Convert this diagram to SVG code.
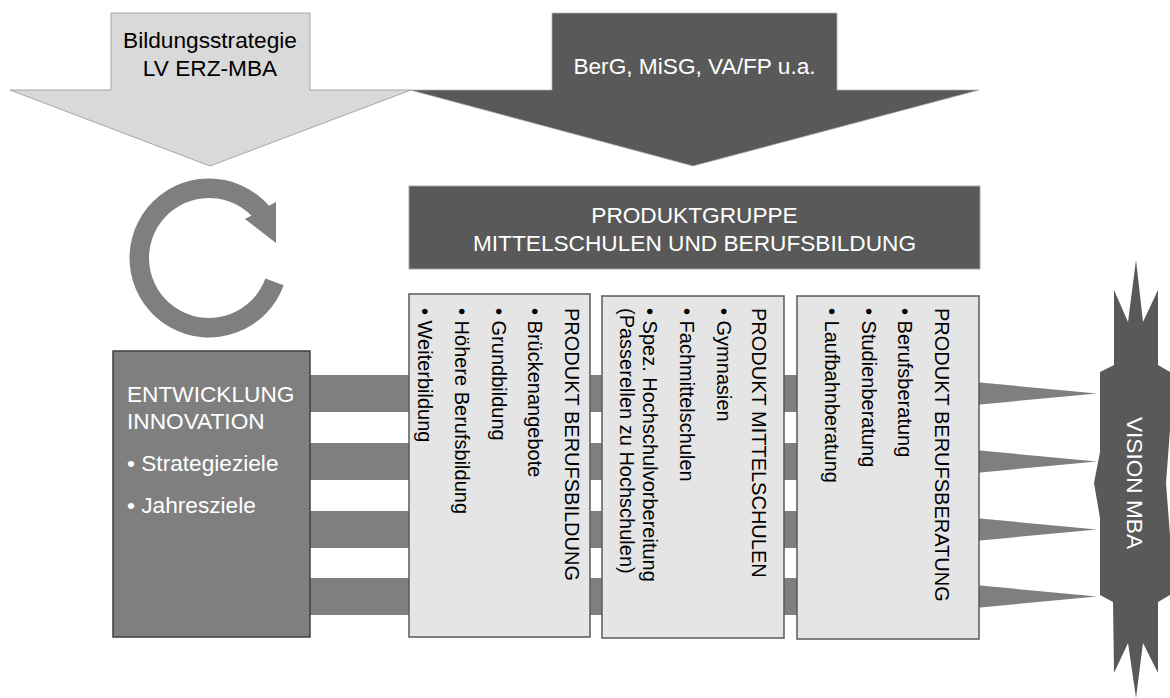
<svg xmlns="http://www.w3.org/2000/svg" width="1170" height="698" viewBox="0 0 1170 698">
  <style>
    text { font-family: "Liberation Sans", Arial, sans-serif; }
    .big { font-size: 22.67px; }
    .small { font-size: 20px; }
    .white { fill: #ffffff; }
    .black { fill: #000000; }
    .product { fill: #e5e5e5; stroke: #595959; stroke-width: 1.5; }
    .bar { fill: #7f7f7f; }
  </style>

  <rect x="0" y="0" width="1170" height="698" fill="#ffffff"/>

  <!-- Incoming block arrows -->
  <g id="arrow-legal">
    <polygon points="552,13 837,13 837,90 979,90 693,166 410,90 552,90" fill="#595959" stroke="#b0b0b0" stroke-width="0.75"/>
    <text class="big white" x="694.5" y="74" text-anchor="middle">BerG, MiSG, VA/FP u.a.</text>
  </g>
  <g id="arrow-strategy">
    <polygon points="111,13 310,13 310,90 411,90 210,166 10,90 111,90" fill="#d9d9d9" stroke="#a6a6a6" stroke-width="1"/>
    <text class="big black" x="210" y="48" text-anchor="middle">Bildungsstrategie</text>
    <text class="big black" x="210" y="76" text-anchor="middle">LV ERZ-MBA</text>
  </g>

  <!-- Cycle symbol -->
  <g id="cycle">
    <path d="M 283.7 285.2 A 79.5 79.5 0 1 1 269 205.8 L 276 202 L 276 243 L 245 219 L 251.4 215.5 A 60 60 0 1 0 265.4 278.5 Z" fill="#7f7f7f"/>
  </g>

  <!-- Connectors: bars from development into the products, spikes into the vision -->
  <g id="connectors">
    <rect class="bar" x="310" y="375" width="590" height="37"/>
    <rect class="bar" x="310" y="443" width="590" height="37"/>
    <rect class="bar" x="310" y="511" width="590" height="37"/>
    <rect class="bar" x="310" y="578" width="590" height="37"/>
    <polygon class="bar" points="900,375 1097,393.5 900,412"/>
    <polygon class="bar" points="900,443 1097,461.5 900,480"/>
    <polygon class="bar" points="900,511 1097,529.5 900,548"/>
    <polygon class="bar" points="900,578 1097,596.5 900,615"/>
  </g>

  <!-- Product group header -->
  <g id="product-group">
    <rect x="409" y="186" width="571" height="83" fill="#595959" stroke="#a6a6a6" stroke-width="1"/>
    <text class="big white" x="694.5" y="223" text-anchor="middle">PRODUKTGRUPPE</text>
    <text class="big white" x="694.5" y="251" text-anchor="middle">MITTELSCHULEN UND BERUFSBILDUNG</text>
  </g>

  <!-- Development / innovation -->
  <g id="development">
    <rect x="113" y="351" width="197" height="286" fill="#7f7f7f" stroke="#404040" stroke-width="1.5"/>
    <text class="big white" x="127" y="402">ENTWICKLUNG</text>
    <text class="big white" x="127" y="429">INNOVATION</text>
    <text class="big white" x="127" y="471">• Strategieziele</text>
    <text class="big white" x="127" y="513">• Jahresziele</text>
  </g>

  <!-- Product: vocational training -->
  <g id="product-berufsbildung">
    <rect class="product" x="409" y="294" width="181" height="343"/>
    <g transform="translate(565,308) rotate(90)" class="small black">
      <text x="0" y="0">PRODUKT BERUFSBILDUNG</text>
      <text x="0" y="37">• Brückenangebote</text>
      <text x="0" y="73">• Grundbildung</text>
      <text x="0" y="110">• Höhere Berufsbildung</text>
      <text x="0" y="147">• Weiterbildung</text>
    </g>
  </g>

  <!-- Product: secondary schools -->
  <g id="product-mittelschulen">
    <rect class="product" x="602" y="296" width="182" height="342"/>
    <g transform="translate(752,308) rotate(90)" class="small black">
      <text x="0" y="0">PRODUKT MITTELSCHULEN</text>
      <text x="0" y="35">• Gymnasien</text>
      <text x="0" y="72">• Fachmittelschulen</text>
      <text x="0" y="109">• Spez. Hochschulvorbereitung</text>
      <text x="0" y="132">(Passerellen zu Hochschulen)</text>
    </g>
  </g>

  <!-- Product: career guidance -->
  <g id="product-berufsberatung">
    <rect class="product" x="797" y="296" width="182" height="343"/>
    <g transform="translate(935,308) rotate(90)" class="small black">
      <text x="0" y="0">PRODUKT BERUFSBERATUNG</text>
      <text x="0" y="37">• Berufsberatung</text>
      <text x="0" y="73">• Studienberatung</text>
      <text x="0" y="110">• Laufbahnberatung</text>
    </g>
  </g>

  <!-- Vision star -->
  <g id="vision">
    <polygon points="1136,260 1143,322 1158,290 1158,365 1170,372 1170,430 1166,483 1170,535 1170,595 1158,602 1158,673 1143,643 1136,698 1128,643 1114,673 1113,602 1100,595 1100,518 1094,483 1100,452 1100,372 1114,365 1114,290 1128,322" fill="#595959"/>
    <text class="big white" transform="translate(1127,483) rotate(90)" x="0" y="0" text-anchor="middle">VISION MBA</text>
  </g>
</svg>
